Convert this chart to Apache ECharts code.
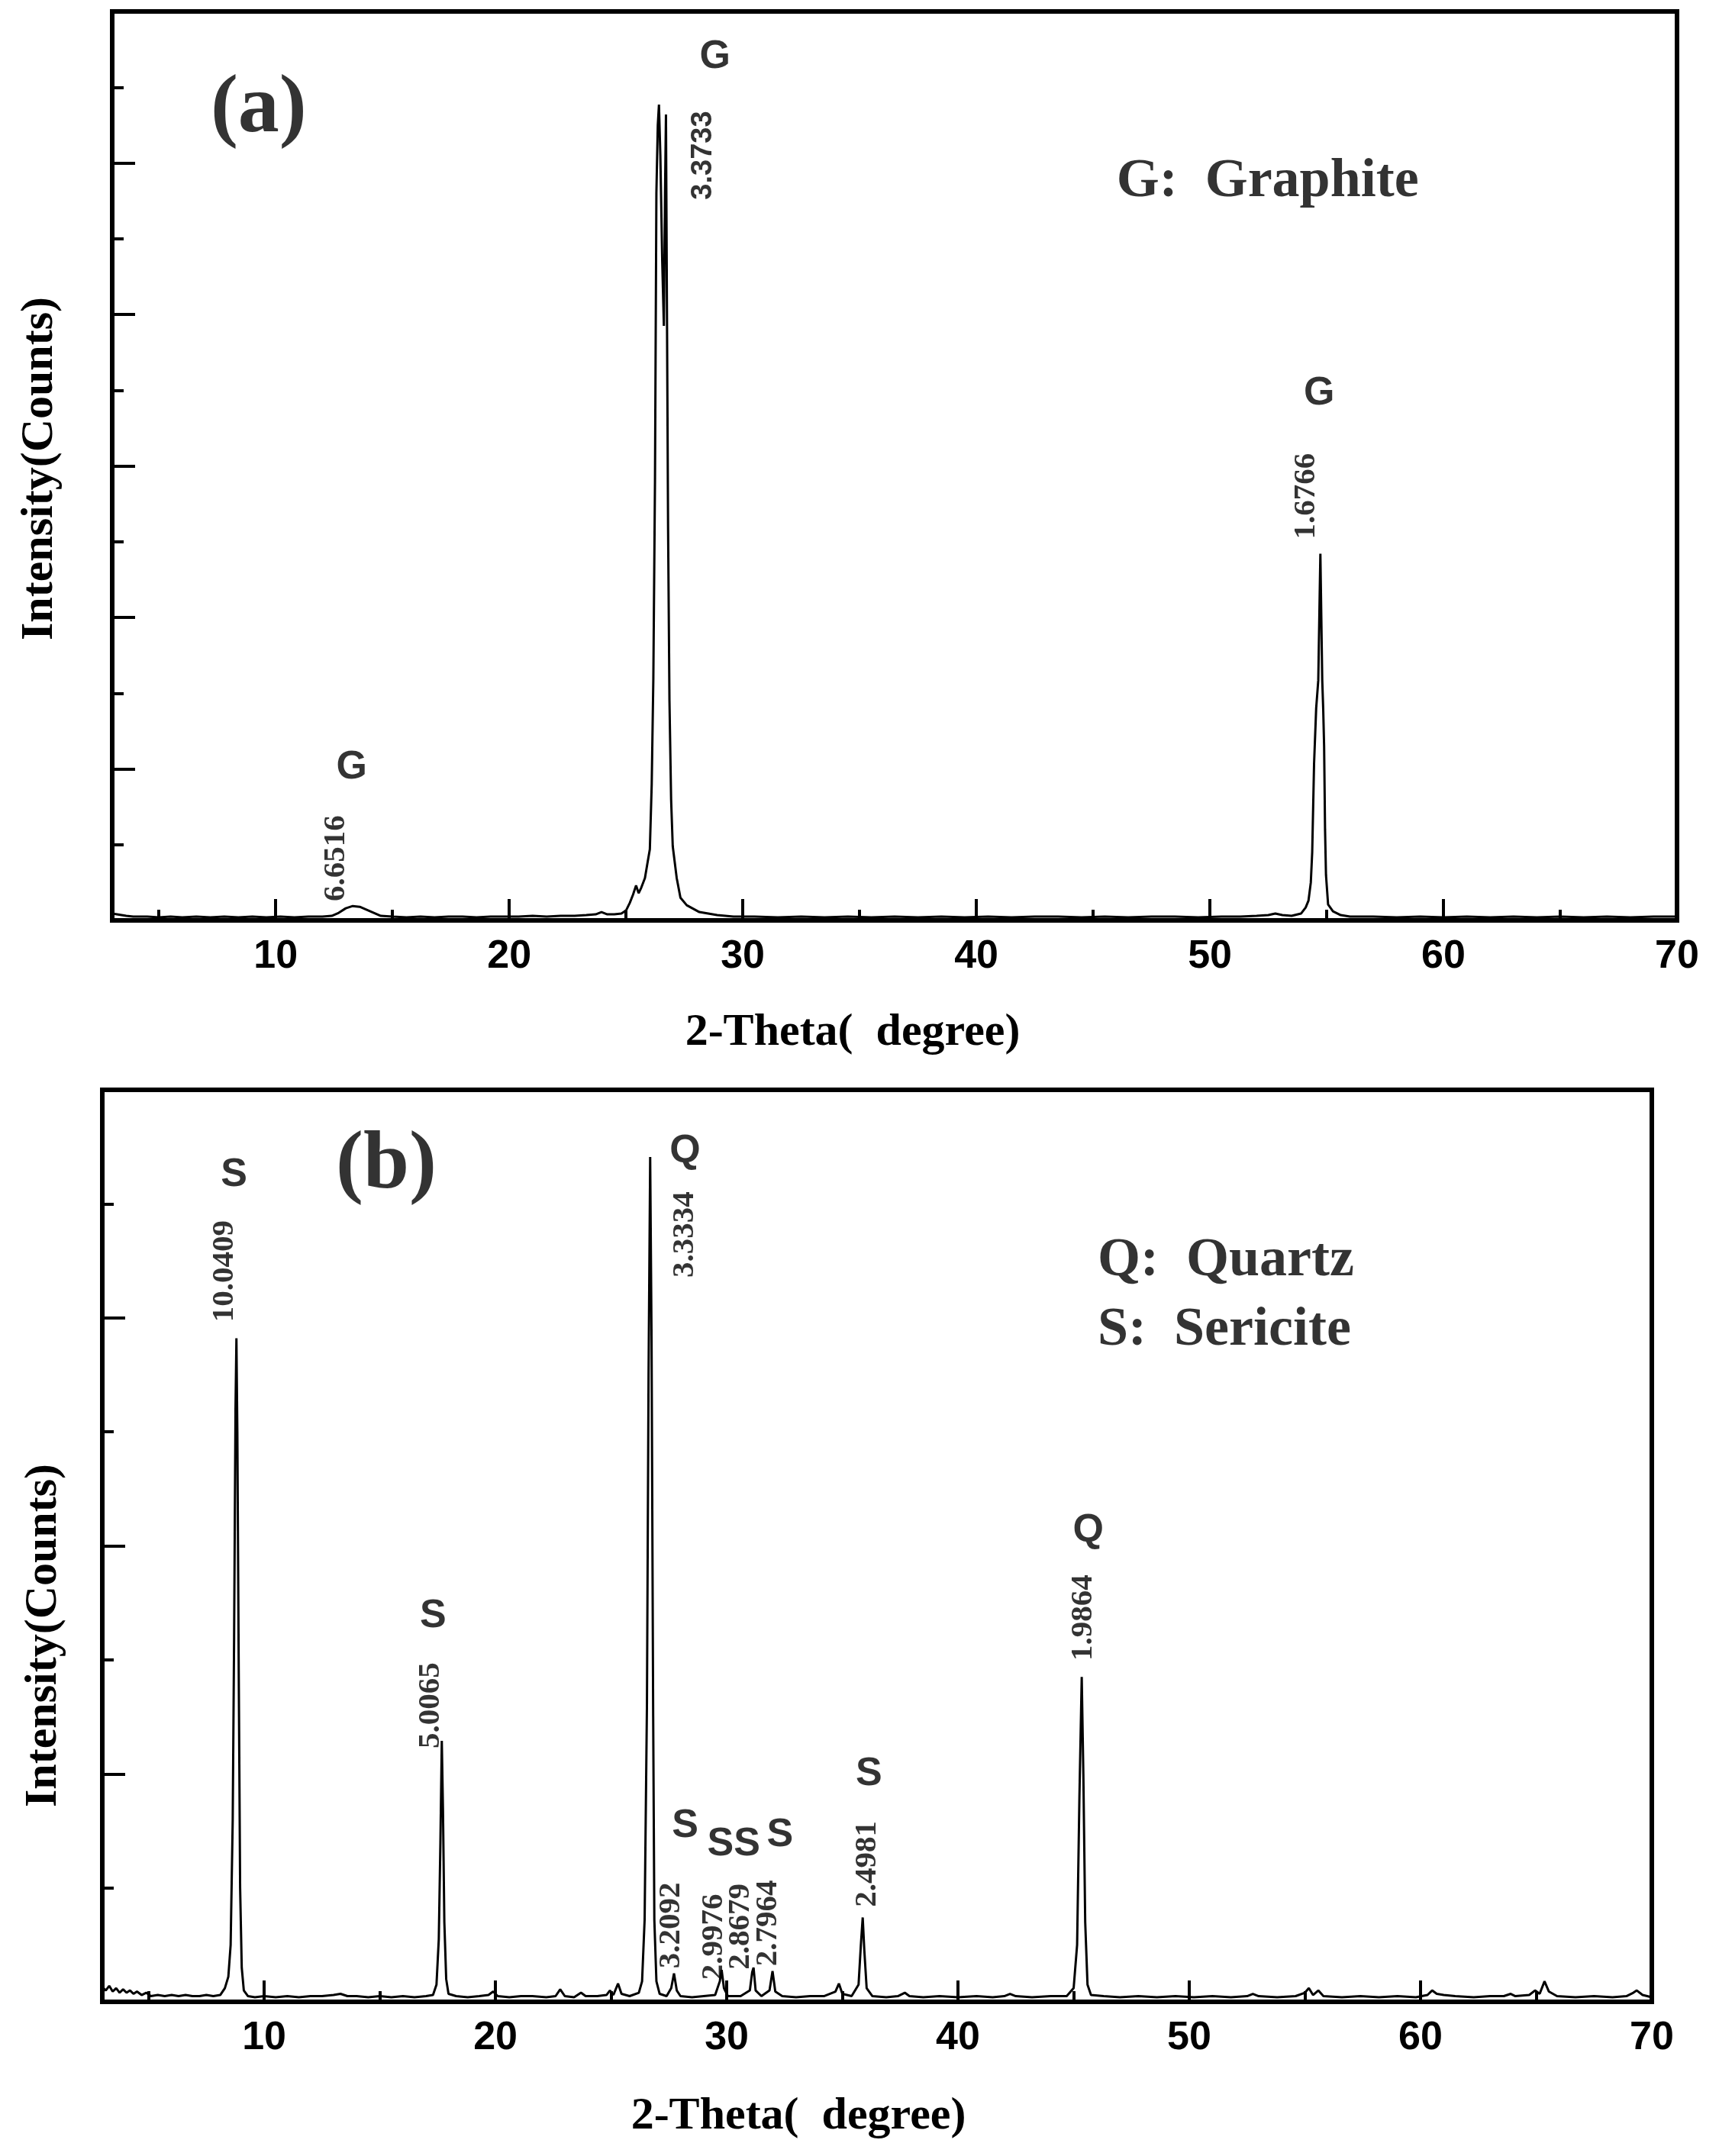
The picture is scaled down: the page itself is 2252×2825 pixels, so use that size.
<!DOCTYPE html>
<html>
<head>
<meta charset="utf-8">
<script src="https://cdn.jsdelivr.net/npm/echarts@6/dist/echarts.min.js"></script>
<style>
  html, body { margin: 0; padding: 0; background: #fff; }
  #xrd { width: 2252px; height: 2825px; }
</style>
</head>
<body>
<div id="xrd"></div>
<script>
// (a) graphite sample, 2-theta in degrees, intensity in tick units
const aTheta = [
  3.0, 3.2, 3.4, 3.6, 3.9, 4.5, 5.0, 5.5, 6.0, 6.6, 7.2, 7.8, 8.4, 9.0, 9.6, 10.2, 10.8, 11.4, 12.0,
  12.4, 12.7, 13.0, 13.3, 13.6, 13.9, 14.2, 14.5, 15.0, 15.6, 16.2, 16.8, 17.4, 18.0, 18.6, 19.2, 19.8,
  20.4, 21.0, 21.6, 22.2, 22.8, 23.3, 23.7, 23.95, 24.2, 24.5, 24.8, 25.0, 25.16, 25.3, 25.43, 25.54,
  25.65, 25.81, 25.92, 26.02, 26.1, 26.17, 26.24, 26.3, 26.36, 26.41, 26.47, 26.55, 26.62, 26.67, 26.71,
  26.75, 26.8, 26.86, 26.93, 27.0, 27.17, 27.33, 27.6, 28.14, 28.9, 29.6, 30.5, 31.5, 32.5, 33.5, 34.5,
  35.5, 36.5, 37.5, 38.5, 39.5, 40.5, 41.5, 42.5, 43.5, 44.5, 45.5, 46.5, 47.5, 48.5, 49.5, 50.5, 51.3,
  52.0, 52.5, 52.8, 53.1, 53.5, 53.9, 54.1, 54.22, 54.32, 54.38, 54.46, 54.55, 54.64, 54.7, 54.73, 54.77,
  54.81, 54.85, 54.89, 54.93, 54.97, 55.06, 55.27, 55.6, 56.0, 57.0, 58.0, 59.0, 60.0, 61.0, 62.0, 63.0,
  64.0, 65.0, 66.0, 67.0, 68.0, 69.0, 70.0
];
const aCounts = [
  0.09, 0.08, 0.07, 0.06, 0.05, 0.05, 0.04, 0.05, 0.04, 0.05, 0.04, 0.05, 0.04, 0.05, 0.04, 0.05, 0.04, 0.05, 0.05,
  0.06, 0.10, 0.16, 0.19, 0.18, 0.14, 0.10, 0.06, 0.05, 0.04, 0.05, 0.04, 0.05, 0.05, 0.04, 0.05, 0.05,
  0.05, 0.06, 0.05, 0.06, 0.06, 0.07, 0.08, 0.11, 0.08, 0.08, 0.09, 0.13, 0.23, 0.34, 0.46, 0.36,
  0.43, 0.56, 0.76, 0.94, 1.8, 3.2, 5.8, 9.6, 10.5, 10.77, 10.1, 8.7, 7.85, 9.6, 10.64,
  8.2, 5.2, 2.9, 1.6, 0.98, 0.56, 0.30, 0.20, 0.11, 0.07, 0.05, 0.05, 0.04, 0.05, 0.04, 0.05,
  0.04, 0.05, 0.04, 0.05, 0.04, 0.05, 0.04, 0.05, 0.05, 0.04, 0.05, 0.04, 0.05, 0.05, 0.04, 0.05, 0.05,
  0.06, 0.07, 0.09, 0.07, 0.06, 0.09, 0.17, 0.26, 0.5, 0.9, 2.07, 2.8, 3.17, 4.3, 4.84, 4.0,
  3.17, 2.8, 2.3, 1.2, 0.6, 0.21, 0.12, 0.07, 0.05, 0.05, 0.04, 0.05, 0.04, 0.05, 0.04, 0.05,
  0.04, 0.05, 0.04, 0.05, 0.04, 0.05, 0.05
];

// (b) quartz + sericite sample
const bTheta = [
  3.0, 3.15, 3.3, 3.45, 3.6, 3.75, 3.9, 4.05, 4.2, 4.35, 4.5, 4.7, 4.9, 5.1, 5.4, 5.7, 6.0, 6.3, 6.6, 6.9,
  7.2, 7.5, 7.8, 8.1, 8.3, 8.45, 8.55, 8.64, 8.7, 8.76, 8.8, 8.84, 8.9, 8.96, 9.03, 9.12, 9.3, 9.6, 10.0,
  10.5, 11.0, 11.5, 12.0, 12.5, 13.0, 13.3, 13.6, 14.0, 14.5, 15.0, 15.5, 16.0, 16.5, 17.0, 17.3, 17.45,
  17.55, 17.62, 17.68, 17.73, 17.79, 17.87, 17.97, 18.3, 18.8, 19.3, 19.7, 19.9, 20.1, 20.6, 21.1, 21.6,
  22.2, 22.6, 22.8, 23.0, 23.4, 23.7, 23.9, 24.4, 24.8, 24.95, 25.1, 25.3, 25.45, 25.8, 26.2, 26.34,
  26.45, 26.55, 26.62, 26.69, 26.75, 26.82, 26.87, 26.96, 27.1, 27.4, 27.6, 27.72, 27.84, 28.0, 28.5,
  29.0, 29.5, 29.7, 29.78, 29.88, 30.05, 30.6, 31.0, 31.1, 31.16, 31.25, 31.5, 31.85, 31.98, 32.1, 32.4,
  33.0, 33.6, 34.2, 34.7, 34.85, 35.0, 35.4, 35.7, 35.8, 35.88, 35.95, 36.05, 36.3, 36.9, 37.4, 37.7,
  37.9, 38.5, 39.2, 40.0, 40.8, 41.5, 42.0, 42.25, 42.5, 43.2, 44.0, 44.7, 45.0, 45.15, 45.25, 45.35,
  45.42, 45.5, 45.6, 45.75, 46.3, 47.0, 47.8, 48.6, 49.4, 50.2, 51.0, 51.8, 52.5, 52.75, 53.0, 53.8,
  54.6, 55.0, 55.17, 55.35, 55.58, 55.8, 56.6, 57.4, 58.2, 59.0, 59.8, 60.3, 60.5, 60.7, 61.0, 61.5,
  62.3, 63.0, 63.6, 63.9, 64.1, 64.7, 64.95, 65.15, 65.36, 65.55, 65.9, 66.7, 67.5, 68.3, 68.9, 69.2,
  69.35, 69.6, 70.0
];
const bCounts = [
  0.13, 0.10, 0.14, 0.09, 0.12, 0.08, 0.11, 0.08, 0.10, 0.07, 0.09, 0.06, 0.08, 0.05, 0.06, 0.05, 0.06, 0.05, 0.06, 0.05,
  0.05, 0.06, 0.05, 0.06, 0.12, 0.22, 0.5, 1.6, 3.2, 5.2, 5.82, 5.0, 2.9, 1.0, 0.3, 0.1, 0.05, 0.04, 0.05,
  0.04, 0.05, 0.04, 0.05, 0.05, 0.06, 0.07, 0.05, 0.05, 0.04, 0.05, 0.04, 0.05, 0.04, 0.05, 0.06, 0.15,
  0.55, 1.4, 2.29, 1.7, 0.7, 0.2, 0.07, 0.05, 0.04, 0.05, 0.06, 0.09, 0.05, 0.04, 0.05, 0.05,
  0.04, 0.05, 0.11, 0.05, 0.04, 0.08, 0.05, 0.05, 0.06, 0.10, 0.06, 0.16, 0.07, 0.05, 0.08, 0.18,
  0.72, 2.6, 5.5, 7.41, 5.8, 2.5, 0.72, 0.18, 0.07, 0.05, 0.12, 0.25, 0.10, 0.05, 0.04,
  0.05, 0.06, 0.18, 0.28, 0.12, 0.05, 0.05, 0.10, 0.26, 0.30, 0.10, 0.05, 0.10, 0.27, 0.09, 0.05,
  0.04, 0.05, 0.05, 0.09, 0.16, 0.07, 0.05, 0.15, 0.5, 0.74, 0.45, 0.12, 0.05, 0.04, 0.05, 0.08,
  0.05, 0.04, 0.05, 0.04, 0.05, 0.04, 0.05, 0.07, 0.05, 0.04, 0.05, 0.05, 0.12, 0.5, 1.8, 2.85,
  2.0, 0.7, 0.15, 0.06, 0.05, 0.04, 0.05, 0.04, 0.05, 0.04, 0.05, 0.04, 0.05, 0.07, 0.05, 0.04,
  0.05, 0.08, 0.12, 0.06, 0.10, 0.05, 0.04, 0.05, 0.04, 0.05, 0.04, 0.06, 0.10, 0.07, 0.06, 0.05,
  0.04, 0.05, 0.05, 0.07, 0.05, 0.06, 0.10, 0.07, 0.18, 0.09, 0.05, 0.04, 0.05, 0.04, 0.05, 0.08,
  0.10, 0.06, 0.04
];

const majorTicks = [10, 20, 30, 40, 50, 60, 70];
const minorTicks = [5, 15, 25, 35, 45, 55, 65];

// peak tags: [text, 2-theta, height, kind]
const aNotes = [
  ['G', 13.25, 2.02, 'tag'],
  ['6.6516', 12.6, 0.82, 'd'],
  ['G', 28.81, 11.4, 'tag'],
  ['3.3733', 28.32, 10.1, 'dsans'],
  ['G', 54.68, 6.96, 'tag'],
  ['1.6766', 54.13, 5.6, 'd'],
  ['(a)', 9.27, 10.7, 'panel'],
  ['G:  Graphite', 46.0, 9.75, 'key']
];
const bNotes = [
  ['(b)', 15.28, 7.33, 'panel'],
  ['S', 8.7, 7.25, 'tag'],
  ['10.0409', 8.3, 6.41, 'd'],
  ['S', 17.3, 3.38, 'tag'],
  ['5.0065', 17.22, 2.6, 'd'],
  ['Q', 28.2, 7.46, 'tag'],
  ['3.3334', 28.2, 6.73, 'd'],
  ['S', 28.2, 1.54, 'tag'],
  ['3.2092', 27.6, 0.67, 'd'],
  ['SS', 30.3, 1.38, 'tag'],
  ['2.9976', 29.45, 0.57, 'd'],
  ['2.8679', 30.6, 0.66, 'd'],
  ['2.7964', 31.8, 0.69, 'd'],
  ['S', 32.3, 1.46, 'tag'],
  ['S', 36.15, 2.0, 'tag'],
  ['2.4981', 36.1, 1.21, 'd'],
  ['Q', 45.63, 4.13, 'tag'],
  ['1.9864', 45.43, 3.37, 'd'],
  ['Q:  Quartz', 46.04, 6.5, 'key'],
  ['S:  Sericite', 46.04, 5.89, 'key']
];

const SERIF = "'Liberation Serif', 'Times New Roman', serif";
const SANS = "'Liberation Sans', Arial, sans-serif";

const noteStyles = {
  tag:   { fontFamily: SANS, fontWeight: 'bold', fontSize: 52 },
  d:     { fontFamily: SERIF, fontWeight: 'bold', fontSize: 41, rotate: 90 },
  dsans: { fontFamily: SANS, fontWeight: 'bold', fontSize: 38, rotate: 90 },
  panel: { fontFamily: SERIF, fontWeight: 'bold', fontSize: 108 },
  key:   { fontFamily: SERIF, fontWeight: 'bold', fontSize: 72, align: 'left' }
};

function pairs(xs, ys) {
  return xs.map((x, i) => [x, ys[i]]);
}

function noteData(notes) {
  return notes.map(n => ({
    name: n[0],
    value: [n[1], n[2]],
    label: Object.assign({ show: true, position: 'inside', color: '#000', formatter: '{b}' }, noteStyles[n[3]])
  }));
}

function xAxes(grid) {
  const base = {
    type: 'value', gridIndex: grid, min: 3, max: 70, position: 'bottom',
    axisLine: { show: false }, splitLine: { show: false }
  };
  return [
    Object.assign({}, base, {
      axisTick: { show: true, inside: true, length: 28, customValues: majorTicks, lineStyle: { color: '#000', width: 4 } },
      axisLabel: {
        show: true, customValues: majorTicks, margin: 22, color: '#000',
        fontFamily: SANS, fontWeight: 'bold', fontSize: 52
      }
    }),
    Object.assign({}, base, {
      axisTick: { show: true, inside: true, length: 14, customValues: minorTicks, lineStyle: { color: '#000', width: 4 } },
      axisLabel: { show: false }
    })
  ];
}

function yAxis(grid, max) {
  return {
    type: 'value', gridIndex: grid, min: 0, max: max, interval: 2,
    axisLine: { show: false },
    axisLabel: { show: false },
    splitLine: { show: false },
    axisTick: { show: true, inside: true, length: 30, lineStyle: { color: '#000', width: 4 } },
    minorTick: { show: true, splitNumber: 2, length: 15, lineStyle: { color: '#000', width: 4 } },
    minorSplitLine: { show: false }
  };
}

const gridBase = {
  show: true, borderColor: '#000', borderWidth: 6, backgroundColor: 'transparent',
  containLabel: false, outerBoundsMode: 'none'
};

const chart = echarts.init(document.getElementById('xrd'), null, { renderer: 'canvas' });
chart.setOption({
  animation: false,
  backgroundColor: '#fff',
  grid: [
    Object.assign({ left: 147, top: 15, width: 2050, height: 1191 }, gridBase),
    Object.assign({ left: 134, top: 1428, width: 2030, height: 1195 }, gridBase)
  ],
  xAxis: xAxes(0).concat(xAxes(1)),
  yAxis: [yAxis(0, 12), yAxis(1, 8)],
  series: [
    {
      type: 'line', xAxisIndex: 0, yAxisIndex: 0, data: pairs(aTheta, aCounts),
      showSymbol: false, lineStyle: { color: '#000', width: 3 }, silent: true
    },
    {
      type: 'line', xAxisIndex: 2, yAxisIndex: 1, data: pairs(bTheta, bCounts),
      showSymbol: false, lineStyle: { color: '#000', width: 3 }, silent: true
    },
    {
      type: 'scatter', xAxisIndex: 0, yAxisIndex: 0, symbolSize: 0, silent: true, z: 5,
      data: noteData(aNotes)
    },
    {
      type: 'scatter', xAxisIndex: 2, yAxisIndex: 1, symbolSize: 0, silent: true, z: 5,
      data: noteData(bNotes)
    }
  ],
  graphic: [
    { type: 'text', x: 52, y: 614, rotation: Math.PI / 2,
      style: { text: 'Intensity(Counts)', font: "bold 60px " + SERIF, fill: '#000', textAlign: 'center', textVerticalAlign: 'middle' } },
    { type: 'text', x: 57, y: 2143, rotation: Math.PI / 2,
      style: { text: 'Intensity(Counts)', font: "bold 60px " + SERIF, fill: '#000', textAlign: 'center', textVerticalAlign: 'middle' } },
    { type: 'text', x: 1117, y: 1353,
      style: { text: '2-Theta(  degree)', font: "bold 60px " + SERIF, fill: '#000', textAlign: 'center', textVerticalAlign: 'middle' } },
    { type: 'text', x: 1046, y: 2773,
      style: { text: '2-Theta(  degree)', font: "bold 60px " + SERIF, fill: '#000', textAlign: 'center', textVerticalAlign: 'middle' } }
  ]
});
</script>
</body>
</html>
